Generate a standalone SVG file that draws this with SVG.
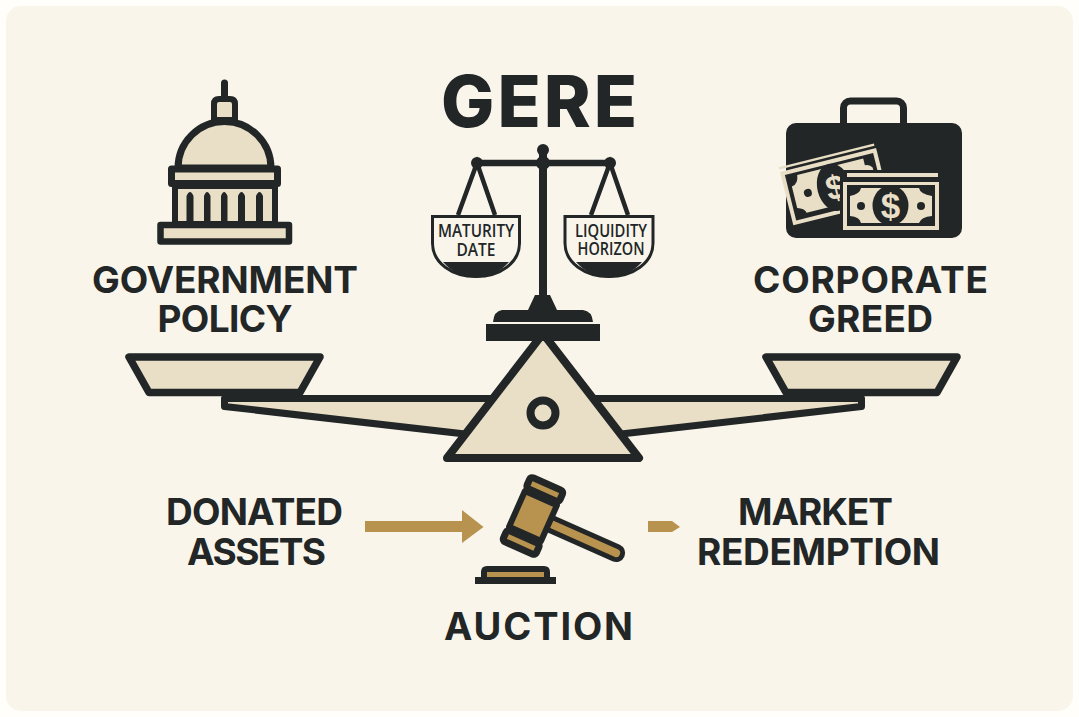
<svg xmlns="http://www.w3.org/2000/svg" width="1079" height="717" viewBox="0 0 1079 717">
<style>
.k{fill:#222627}
.s{stroke:#222627;stroke-width:7;stroke-linejoin:round;fill:#e9dec6}
.b{fill:#e9dec6}
.g{fill:#b8934f}
.t{font-family:Inter,"Liberation Sans",sans-serif;font-weight:700;font-size:37px;fill:#222627;text-anchor:middle}
.m{font-family:"Open Sans","Liberation Sans",sans-serif;font-weight:600;font-size:18.5px;fill:#222627;text-anchor:middle}
</style>
<rect width="1079" height="717" fill="#fffefb"/>
<rect x="6" y="6" width="1067" height="705" rx="15" fill="#f9f5ea"/>
<g id="title"><text class="t" x="539" y="127" style="font-size:71px;font-weight:800" textLength="196">GERE</text></g>
<g id="capitol">
<path d="M224.500 83V98" fill="none" stroke="#222627" stroke-width="7" stroke-linecap="round"/>
<path class="s" d="M214 120V104Q214 99 219 99H230Q235 99 235 104V120Z" style="stroke-width:6"/>
<path class="s" d="M178 168A46.500 46.500 0 0 1 271 168Z"/>
<rect class="s" x="171.500" y="169" width="106" height="14.500" style="stroke-width:7"/>
<rect class="s" x="175" y="186" width="100" height="38" style="stroke-width:6"/>
<path class="k" d="M186.500 223V196Q190 188 193.500 196V223ZM204 223V196Q207 188 210.500 196V223ZM221 223V196Q224 188 227.500 196V223ZM238 223V196Q241.500 188 245 196V223ZM256 223V196Q259.500 188 263 196V223Z"/>
<rect class="s" x="160.500" y="225" width="128.500" height="16.500" style="stroke-width:6.500"/>
</g>
<g id="label-government"><text class="t" x="225" y="293" textLength="266">GOVERNMENT</text><text class="t" x="225" y="332" textLength="135">POLICY</text></g>
<g id="big-scale">
<path class="s" d="M224.500 398.500 500 398.500V438L224.500 406.500ZM861.500 398.500 586 398.500V438L861.500 406.500Z"/>
<path class="s" d="M129 357H320L300 392.500H149Z" style="stroke-width:7.500"/>
<path class="s" d="M766 357H957L937 392.500H786Z" style="stroke-width:7.500"/>
<path class="s" d="M543 333.500 639 458H447Z" style="stroke-width:8"/>
<circle cx="543" cy="413" r="12.500" fill="#e9dec6" stroke="#222627" stroke-width="8"/>
</g>
<g id="small-scale">
<path d="M458 215 477 163 495 215M591 215 610 163 628 215" fill="none" stroke="#222627" stroke-width="4.500"/>
<path d="M477 163H610" stroke="#222627" stroke-width="6.500"/>
<rect class="k" x="539" y="150" width="8" height="150"/>
<circle class="k" cx="477" cy="163" r="6"/><circle class="k" cx="610" cy="163" r="6"/><circle class="k" cx="543" cy="163" r="7"/><circle class="k" cx="543" cy="150" r="6"/>
<path class="k" d="M535 295H550L557 310H583Q592 311 593 322H493Q494 311 502 310H528Z"/>
<rect class="k" x="486" y="324" width="114" height="17"/>
<g id="pan-maturity">
<path d="M432.500 216.500H519.500V243C519.500 263 500 276.500 476 276.500S432.500 263 432.500 243Z" fill="#f9f5ea" stroke="#222627" stroke-width="3"/>
<path class="k" d="M443 262H509C500 272 488 277.500 476 277.500S452 272 443 262Z"/>
<text class="m" x="476" y="237" textLength="76" lengthAdjust="spacingAndGlyphs">MATURITY</text>
<text class="m" x="476" y="256" textLength="39" lengthAdjust="spacingAndGlyphs">DATE</text>
</g>
<g id="pan-liquidity">
<path d="M565 216.500H653V243C653 263 633 276.500 609 276.500S565 263 565 243Z" fill="#f9f5ea" stroke="#222627" stroke-width="3"/>
<path class="k" d="M576 262H642C633 272 621 277.500 609 277.500S585 272 576 262Z"/>
<text class="m" x="611" y="237" textLength="72" lengthAdjust="spacingAndGlyphs">LIQUIDITY</text>
<text class="m" x="611" y="255" textLength="67" lengthAdjust="spacingAndGlyphs">HORIZON</text>
</g>
</g>
<g id="briefcase">
<rect x="843.500" y="101" width="60" height="40" rx="7" fill="none" stroke="#222627" stroke-width="7"/>
<rect class="k" x="786" y="123" width="176" height="115" rx="10"/>
<g transform="translate(780 172) rotate(-14)">
<rect class="b" x="0" y="-5" width="98" height="2.500"/>
<rect class="b" x="0" y="0" width="99" height="55"/>
<rect class="k" x="4" y="4" width="91" height="47"/>
<path class="b" d="M16 7H84V14Q89 14 91 18V38Q86 39 85 46H16Q15 41 8 39V17Q15 16 16 7Z"/>
<ellipse class="k" cx="49" cy="28" rx="17" ry="24"/>
<circle class="k" cx="22" cy="27" r="4"/>
<text x="50" y="40" style="font-family:'Liberation Sans',sans-serif;font-weight:700;font-size:34px;fill:#e9dec6;text-anchor:middle">$</text>
</g>
<rect class="k" x="840" y="170" width="102" height="63"/>
<rect class="b" x="847" y="173" width="91" height="4"/>
<rect class="b" x="843" y="182" width="96" height="48"/>
<rect class="k" x="847" y="185" width="88" height="41"/>
<path class="b" d="M861 188H919Q920 194 932 196V216Q921 217 919 223H861Q860 217 850 216V196Q860 194 861 188Z"/>
<ellipse class="k" cx="890.500" cy="205.500" rx="18" ry="20"/>
<circle class="k" cx="861" cy="206" r="4"/><circle class="k" cx="921" cy="206" r="4"/>
<text x="890.500" y="218" style="font-family:'Liberation Sans',sans-serif;font-weight:700;font-size:35px;fill:#e9dec6;text-anchor:middle">$</text>
</g>
<g id="label-corporate"><text class="t" x="870.500" y="293" textLength="235">CORPORATE</text><text class="t" x="870.500" y="332" textLength="125">GREED</text></g>
<g id="connectors">
<path class="g" d="M365 521H462V510L483.500 527 462 543V532H365Z"/>
<path class="g" d="M648 521H672L680 527 672 532H648Z"/>
</g>
<g id="gavel">
<g transform="translate(533 516) rotate(24)">
<path d="M17 0H91" stroke="#222627" stroke-width="18" stroke-linecap="round"/>
<path d="M17 0H91" stroke="#b8934f" stroke-width="8" stroke-linecap="round"/>
<rect class="s" x="-17.500" y="-19.500" width="35" height="39" style="fill:#b8934f;stroke-width:6"/>
<rect class="s" x="-18" y="-35" width="36" height="12" rx="3" style="fill:#b8934f"/>
<rect class="s" x="-18" y="23" width="36" height="12" rx="3" style="fill:#b8934f"/>
</g>
<path class="k" d="M475 577H481V572Q481 566 487 566H544Q550 566 550 572V577H556V584H475Z"/>
<rect class="g" x="487" y="572" width="57" height="5"/>
</g>
<g id="label-donated"><text class="t" x="254.500" y="525" textLength="177">DONATED</text><text class="t" x="256.500" y="565" textLength="139">ASSETS</text></g>
<g id="label-market"><text class="t" x="815.500" y="525" textLength="155">MARKET</text><text class="t" x="818.500" y="565" textLength="243">REDEMPTION</text></g>
<g id="label-auction"><text class="t" x="538.500" y="640" style="font-size:38px" textLength="189">AUCTION</text></g>
</svg>
